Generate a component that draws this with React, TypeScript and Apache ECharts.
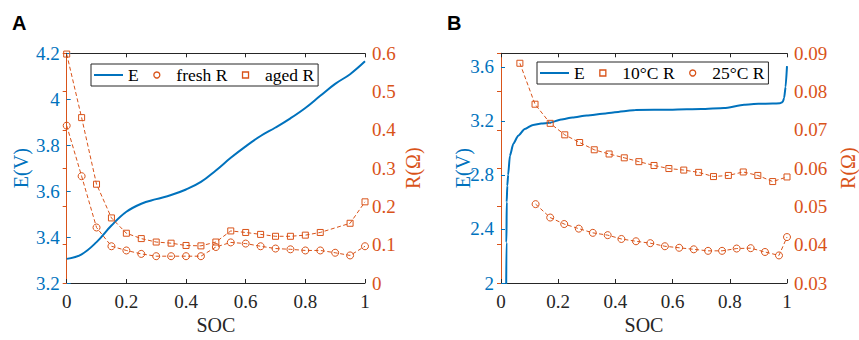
import React, { useEffect, useRef } from "react";
import * as echarts from "echarts";

const BLUE = "#0072BD";
const ORANGE = "#D95319";
const DARK = "#262626";
const SERIF = "'Liberation Serif', 'Times New Roman', serif";

// Panel A
const socA = [0, 0.05, 0.1, 0.15, 0.2, 0.25, 0.3, 0.35, 0.4, 0.45, 0.5, 0.55, 0.6, 0.65, 0.7, 0.75, 0.8, 0.85, 0.9, 0.95, 1];
const eA = [3.305, 3.325, 3.378, 3.45, 3.51, 3.545, 3.565, 3.583, 3.607, 3.64, 3.69, 3.745, 3.795, 3.84, 3.877, 3.917, 3.962, 4.015, 4.067, 4.109, 4.165];
const freshR = [0.411, 0.279, 0.145, 0.096, 0.085, 0.076, 0.07, 0.07, 0.07, 0.07, 0.094, 0.106, 0.103, 0.096, 0.09, 0.088, 0.085, 0.085, 0.079, 0.072, 0.096];
const socAged = [0, 0.05, 0.1, 0.15, 0.2, 0.25, 0.3, 0.35, 0.4, 0.45, 0.5, 0.55, 0.6, 0.65, 0.7, 0.75, 0.8, 0.85, 0.95, 1];
const agedR = [0.598, 0.432, 0.258, 0.17, 0.13, 0.116, 0.107, 0.104, 0.098, 0.097, 0.107, 0.136, 0.132, 0.127, 0.122, 0.122, 0.125, 0.132, 0.156, 0.212];

// Panel B
const socBE = [0.018, 0.019, 0.02, 0.022, 0.025, 0.031, 0.043, 0.06, 0.083, 0.112, 0.141, 0.17, 0.21, 0.25, 0.3, 0.366, 0.43, 0.47, 0.6, 0.7, 0.78, 0.85, 0.9, 0.95, 0.975, 0.985, 0.99, 0.995, 1.0];
const eB = [1.9, 2.3, 2.6, 2.72, 2.8, 2.94, 3.03, 3.09, 3.14, 3.17, 3.18, 3.186, 3.21, 3.225, 3.24, 3.255, 3.272, 3.28, 3.283, 3.287, 3.295, 3.319, 3.326, 3.328, 3.33, 3.34, 3.37, 3.45, 3.605];
const soc10 = [0.066, 0.119, 0.172, 0.223, 0.275, 0.326, 0.378, 0.431, 0.482, 0.535, 0.587, 0.639, 0.691, 0.743, 0.795, 0.847, 0.898, 0.95, 1.0];
const r10 = [0.0874, 0.0767, 0.0717, 0.0687, 0.0667, 0.0648, 0.0637, 0.0627, 0.0617, 0.0607, 0.0599, 0.0595, 0.0589, 0.0578, 0.0581, 0.059, 0.0581, 0.0565, 0.0577];
const soc25 = [0.121, 0.172, 0.221, 0.272, 0.321, 0.373, 0.421, 0.472, 0.522, 0.573, 0.623, 0.674, 0.724, 0.773, 0.824, 0.873, 0.923, 0.972, 1.0];
const r25 = [0.0506, 0.0471, 0.0454, 0.0442, 0.0431, 0.0425, 0.0415, 0.0409, 0.0404, 0.0396, 0.0392, 0.0388, 0.0384, 0.0384, 0.039, 0.0391, 0.0381, 0.0372, 0.042];

const zip = (xs: number[], ys: number[]) => xs.map((x, i) => [x, ys[i]]);

const SQUARE = "path://M0,0H6V6H0Z";
const LINEICON = "path://M0,0H29V2H0Z";

function xAx(gridIndex: number, top: boolean): any {
  return {
    type: "value",
    gridIndex,
    position: top ? "top" : "bottom",
    min: 0,
    max: 1,
    interval: 0.2,
    axisLine: { show: true, lineStyle: { color: DARK, width: 1 } },
    axisTick: { show: true, inside: true, length: 4, lineStyle: { color: DARK } },
    axisLabel: top
      ? { show: false }
      : { color: DARK, fontSize: 19, fontFamily: SERIF, margin: 9 },
    splitLine: { show: false },
    name: top ? "" : "SOC",
    nameLocation: "middle",
    nameGap: 32,
    nameMoveOverlap: false,
    nameTextStyle: { color: DARK, fontSize: 20, fontFamily: SERIF },
  };
}

function yAx(gridIndex: number, right: boolean, min: number, max: number, interval: number, name: string, nameGap: number, hideMax = false): any {
  const c = right ? ORANGE : BLUE;
  return {
    type: "value",
    gridIndex,
    position: right ? "right" : "left",
    min,
    max,
    interval,
    axisLine: { show: true, lineStyle: { color: c, width: 1 } },
    axisTick: { show: true, inside: true, length: 4, lineStyle: { color: c } },
    axisLabel: { color: c, fontSize: 19, fontFamily: SERIF, margin: 7, showMaxLabel: !hideMax },
    splitLine: { show: false },
    name,
    nameLocation: "middle",
    nameRotate: 90,
    nameGap,
    nameMoveOverlap: false,
    nameTextStyle: { color: c, fontSize: 20, fontFamily: SERIF },
  };
}

function rSeries(name: string, data: number[][], xi: number, yi: number, square: boolean): any {
  return {
    name,
    type: "line",
    xAxisIndex: xi,
    yAxisIndex: yi,
    data,
    symbol: square ? "rect" : "circle",
    symbolSize: square ? 6 : 7,
    showSymbol: true,
    itemStyle: { color: "transparent", borderColor: ORANGE, borderWidth: 1 },
    lineStyle: { color: ORANGE, width: 1, type: [4, 2.5] },
    z: 3,
  };
}

function legendItem(name: string, kind: "line" | "circle" | "square"): any {
  if (kind === "line") {
    return { name, icon: LINEICON, itemStyle: { color: BLUE, borderWidth: 0 } };
  }
  return {
    name,
    icon: kind === "circle" ? "circle" : SQUARE,
    itemStyle: { color: "transparent", borderColor: ORANGE, borderWidth: 1.3 },
  };
}

function legend(left: number, top: number, items: any[]): any {
  return {
    left,
    top,
    orient: "horizontal",
    data: items,
    selectedMode: false,
    itemWidth: 29,
    itemHeight: 6,
    itemGap: 14.5,
    symbolKeepAspect: true,
    backgroundColor: "#fff",
    borderColor: DARK,
    borderWidth: 1,
    borderRadius: 0,
    padding: [2, 4, 2, 3],
    textStyle: { color: "#000", fontSize: 17.5, fontFamily: SERIF },
  };
}

export default function App() {
  const ref = useRef<HTMLDivElement>(null);
  useEffect(() => {
    document.body.style.margin = "0";
    const chart = echarts.init(ref.current!, null, { renderer: "svg" });
    chart.setOption({
      animation: false,
      backgroundColor: "#fff",
      textStyle: { fontFamily: SERIF },
      grid: [
        { left: 66.7, top: 53.3, width: 298.3, height: 237.7 },
        { left: 501, top: 53.3, width: 289, height: 237.7 },
      ],
      xAxis: [xAx(0, false), xAx(0, true), xAx(1, false), xAx(1, true)],
      yAxis: [
        yAx(0, false, 3.2, 4.2, 0.2, "E(V)", 36),
        yAx(0, true, 0, 0.6, 0.1, "R(Ω)", 38),
        yAx(1, false, 2, 3.7, 0.4, "E(V)", 28, true),
        yAx(1, true, 0.03, 0.09, 0.01, "R(Ω)", 51),
      ],
      legend: [
        legend(91, 64, [legendItem("E", "line"), legendItem("fresh R", "circle"), legendItem("aged R", "square")]),
        legend(537, 62, [legendItem("E", "line"), legendItem("10°C R", "square"), legendItem("25°C R", "circle")]),
      ],
      series: [
        {
          name: "E",
          type: "line",
          xAxisIndex: 0,
          yAxisIndex: 0,
          data: zip(socA, eA),
          smooth: 0.4,
          symbol: "none",
          lineStyle: { color: BLUE, width: 2 },
          itemStyle: { color: BLUE },
          z: 2,
        },
        rSeries("fresh R", zip(socA, freshR), 0, 1, false),
        rSeries("aged R", zip(socAged, agedR), 0, 1, true),
        {
          name: "E",
          type: "line",
          xAxisIndex: 2,
          yAxisIndex: 2,
          data: zip(socBE, eB),
          smooth: 0.2,
          smoothMonotone: "x",
          symbol: "none",
          clip: true,
          lineStyle: { color: BLUE, width: 2 },
          itemStyle: { color: BLUE },
          z: 2,
        },
        rSeries("10°C R", zip(soc10, r10), 2, 3, true),
        rSeries("25°C R", zip(soc25, r25), 2, 3, false),
      ],
      graphic: [
        { type: "text", left: 12, top: 13, style: { text: "A", fontSize: 20, fontWeight: "bold", fontFamily: "'Liberation Sans', Arial, sans-serif", fill: "#000" } },
        { type: "text", left: 447, top: 13, style: { text: "B", fontSize: 20, fontWeight: "bold", fontFamily: "'Liberation Sans', Arial, sans-serif", fill: "#000" } },
      ],
    });
    return () => chart.dispose();
  }, []);
  return <div ref={ref} style={{ width: 859, height: 340 }} />;
}
